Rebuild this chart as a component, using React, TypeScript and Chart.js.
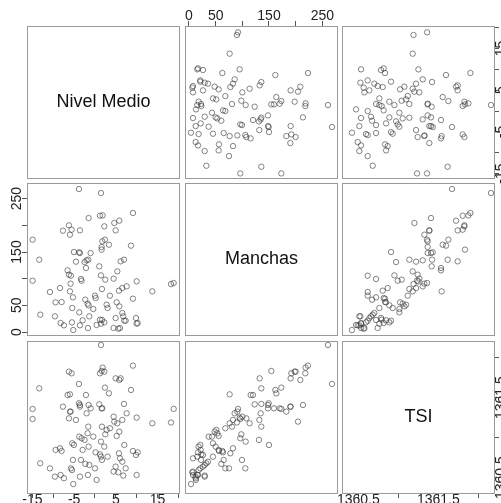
import React, { useEffect, useRef } from "react";
import { Chart, registerables } from "chart.js";

Chart.register(...registerables);

const W = 501;
const H = 503;

// ---- data (one entry per observation) ----
const nivelMedio = [
  -5.2, 5.6, -1.68, 4.48, 6.0, -7.44, -3.6, 0.4, 1.44, 10.0,
  -8.24, 10.24, -5.52, 2.24, 7.04, 7.36, -2.96, 1.68, 1.2, 4.96,
  9.84, -9.6, -1.36, 6.8, -13.12, 6.56, -3.76, -0.4, -5.44, 3.04,
  5.84, -1.52, 2.8, -1.76, -9.44, 5.2, -8.0, -2.32, 9.12, 0.16,
  -5.28, 0.0, 3.6, -10.8, -6.0, 13.76, 5.76, 1.68, -8.4, 6.56,
  7.6, 18.24, -5.84, 18.88, 10.0, -14.96, -3.2, 2.48, -3.36, 4.48,
  -5.76, 1.44, -6.24, 5.36, -6.56, -2.16, 1.04, -2.48, -4.56, 6.16,
  -2.0, -13.36, -1.6, 6.96, -3.6, -1.04, -3.84, -5.04, 1.6, 1.6,
  8.64, 3.36, 1.76, -14.96, 2.4, -6.0, -7.68, -3.6, 4.96, -5.6,
  2.24, -6.24, 4.64, 5.84, -1.52, 1.2, 1.84, 9.12, 1.44, -3.84,
];

const manchas = [
  3.7, 6.2, 7.5, 7.5, 7.5, 12.5, 12.5, 13.1, 15.6, 15.6,
  16.9, 16.9, 18.1, 18.1, 21.2, 21.2, 21.9, 22.5, 23.1, 26.2,
  26.2, 29.4, 29.4, 29.4, 32.5, 35.6, 36.9, 43.1, 45.0, 45.0,
  48.1, 50.0, 51.2, 53.1, 55.6, 55.6, 56.2, 60.6, 62.5, 63.7,
  65.0, 68.1, 68.1, 75.0, 76.2, 76.2, 77.5, 80.6, 82.5, 82.5,
  85.6, 89.9, 90.6, 91.9, 95.0, 96.2, 96.2, 98.1, 99.4, 100.0,
  105.6, 106.2, 107.5, 113.7, 115.6, 120.0, 123.1, 131.2, 131.9, 132.5,
  134.4, 135.6, 135.6, 135.6, 148.1, 148.1, 149.4, 150.0, 154.4, 159.4,
  161.9, 163.7, 170.0, 173.1, 173.1, 182.5, 190.0, 190.6, 190.6, 191.9,
  198.1, 200.0, 204.4, 208.7, 213.7, 218.1, 218.7, 223.1, 260.6, 268.1,
];

const tsi = [
  1360.42, 1360.567, 1360.534, 1360.576, 1360.742, 1360.493, 1360.513, 1360.472, 1360.763, 1360.534,
  1360.534, 1360.817, 1360.596, 1360.888, 1360.909, 1360.617, 1360.847, 1360.722, 1360.792, 1360.638,
  1360.784, 1360.513, 1360.659, 1360.526, 1360.68, 1360.70, 1361.013, 1361.013, 1360.93, 1360.763,
  1361.076, 1360.888, 1361.097, 1361.055, 1360.847, 1361.022, 1360.834, 1360.672, 1360.834, 1360.817,
  1360.722, 1360.617, 1361.118, 1360.617, 1361.542, 1361.18, 1360.805, 1361.138, 1360.867, 1361.222,
  1361.305, 1361.19, 1361.326, 1361.36, 1361.251, 1361.234, 1360.993, 1361.042, 1360.722, 1361.263,
  1360.617, 1360.951, 1361.242, 1361.18, 1361.534, 1361.534, 1361.417, 1360.972, 1361.222, 1361.742,
  1361.305, 1361.617, 1361.138, 1361.422, 1361.409, 1361.367, 1361.43, 1360.909, 1361.834, 1361.367,
  1361.597, 1361.555, 1361.367, 1361.359, 1361.626, 1361.326, 1361.388, 1361.388, 1361.742, 1361.805,
  1361.826, 1361.826, 1361.201, 1361.722, 1361.409, 1361.805, 1361.876, 1361.901, 1362.159, 1361.672,
];

const variableNames = ["Nivel Medio", "Manchas", "TSI"];

const nivelTicks = [-15, -10, -5, 0, 5, 10, 15, 20];
const nivelTickLabels = [-15, -5, 5, 15];
const manchasTicks = [0, 50, 100, 150, 200, 250];
const manchasTickLabels = [0, 50, 150, 250];
const tsiTicks = [1360.5, 1361, 1361.5, 1362];
const tsiTickLabels = [1360.5, 1361.5];

const nivelRange = [-16.3, 20.4];
const manchasRange = [-7.5, 279.4];
const tsiRange = [1360.296, 1362.209];

// ---- layout / style ----
const FAMILY = "'Liberation Sans', Arial, Helvetica, sans-serif";
const TICK_FONT = { family: FAMILY, size: 14, lineHeight: 1 };
const TICK_FONT_STRING = `14px ${FAMILY}`;
const COL_LEFT = [27, 185, 342];
const ROW_TOP = [26, 183, 341];
const PANEL = 153;
const TICK_LEN: Record<string, number> = { top: 5, bottom: 4, left: 5, right: 4 };
const LABEL_GAP: Record<string, number> = { top: 10.3, bottom: 6.5, left: 10.3, right: 6.5 };

type Variable = {
  name: string;
  values: number[];
  range: number[];
  ticks: number[];
  labels: number[];
  fmt: (v: number) => string;
};

const VARS: Variable[] = [
  { name: variableNames[0], values: nivelMedio, range: nivelRange, ticks: nivelTicks, labels: nivelTickLabels, fmt: (v) => String(v) },
  { name: variableNames[1], values: manchas, range: manchasRange, ticks: manchasTicks, labels: manchasTickLabels, fmt: (v) => String(v) },
  { name: variableNames[2], values: tsi, range: tsiRange, ticks: tsiTicks, labels: tsiTickLabels, fmt: (v) => v.toFixed(1) },
];

function widestLabel(v: Variable): number {
  const ctx = document.createElement("canvas").getContext("2d");
  if (!ctx) return 0;
  ctx.font = TICK_FONT_STRING;
  return Math.max(...v.labels.map((l) => ctx.measureText(v.fmt(l)).width));
}

const framePlugin = {
  id: "frame",
  afterDraw(chart: any, _args: any, opts: any) {
    const { ctx, chartArea } = chart;
    const { left, top, width, height } = chartArea;
    ctx.save();
    ctx.strokeStyle = "#9a9a9a";
    ctx.lineWidth = 1;
    ctx.strokeRect(left + 0.5, top + 0.5, width - 1, height - 1);
    if (opts && opts.label) {
      ctx.fillStyle = "#111";
      ctx.font = `18px ${FAMILY}`;
      ctx.textAlign = "center";
      ctx.textBaseline = "middle";
      ctx.fillText(opts.label, left + width / 2, top + height / 2);
    }
    ctx.restore();
  },
};

function axisOptions(v: Variable, axis: "x" | "y", side: string, show: boolean, size: number) {
  const horizontal = axis === "x";
  const tl = TICK_LEN[side];
  const pad = horizontal ? LABEL_GAP[side] - tl - 7 : LABEL_GAP[side] - tl - widestLabel(v) / 2;
  return {
    type: "linear",
    position: side,
    display: show,
    min: v.range[0],
    max: v.range[1],
    afterBuildTicks: (s: any) => {
      s.ticks = v.ticks.map((value) => ({ value }));
    },
    afterFit: (s: any) => {
      if (horizontal) s.height = show ? size : 0;
      else s.width = show ? size : 0;
      s.paddingLeft = 0;
      s.paddingRight = 0;
      s.paddingTop = 0;
      s.paddingBottom = 0;
    },
    ticks: {
      autoSkip: false,
      includeBounds: false,
      font: TICK_FONT,
      color: "#222",
      padding: pad,
      minRotation: horizontal ? 0 : 90,
      maxRotation: horizontal ? 0 : 90,
      crossAlign: horizontal ? "near" : "center",
      callback: (value: number) => (v.labels.includes(value) ? v.fmt(value) : ""),
    },
    grid: {
      display: show,
      drawOnChartArea: false,
      drawTicks: true,
      tickLength: tl,
      color: "#555",
      lineWidth: 1,
    },
    border: { display: false },
  };
}

function buildConfig(i: number, j: number): any {
  const xv = VARS[j];
  const yv = VARS[i];
  const left = COL_LEFT[j];
  const top = ROW_TOP[i];
  const right = left + PANEL;
  const bottom = top + PANEL;
  const dist: Record<string, number> = { left, top, right: W - right, bottom: H - bottom };
  const sides: Record<string, boolean> = {
    top: i === 0 && j === 1,
    bottom: i === 2 && j !== 1,
    left: j === 0 && i === 1,
    right: j === 2 && i !== 1,
  };
  const xSide = sides.top ? "top" : "bottom";
  const ySide = sides.right ? "right" : "left";
  const diag = i === j;
  const data = diag ? [] : xv.values.map((x, k) => ({ x, y: yv.values[k] }));
  return {
    type: "scatter",
    data: {
      datasets: [
        {
          data,
          pointRadius: 2.7,
          pointHoverRadius: 2.7,
          pointBorderWidth: 0.9,
          pointBorderColor: "rgba(50,50,50,0.66)",
          pointBackgroundColor: "rgba(0,0,0,0)",
        },
      ],
    },
    options: {
      animation: false,
      responsive: false,
      devicePixelRatio: 1,
      events: [],
      layout: {
        padding: {
          left: sides.left ? 0 : dist.left,
          right: sides.right ? 0 : dist.right,
          top: sides.top ? 0 : dist.top,
          bottom: sides.bottom ? 0 : dist.bottom,
        },
      },
      plugins: {
        legend: { display: false },
        tooltip: { enabled: false },
        frame: { label: diag ? yv.name : "" },
      },
      scales: {
        x: axisOptions(xv, "x", xSide, sides[xSide], dist[xSide]),
        y: axisOptions(yv, "y", ySide, sides[ySide], dist[ySide]),
      },
    },
    plugins: [framePlugin],
  };
}

const CELLS = [0, 1, 2, 3, 4, 5, 6, 7, 8];

export default function App() {
  const refs = useRef<(HTMLCanvasElement | null)[]>([]);

  useEffect(() => {
    const charts: Chart[] = [];
    CELLS.forEach((k) => {
      const canvas = refs.current[k];
      if (canvas) charts.push(new Chart(canvas, buildConfig(Math.floor(k / 3), k % 3)));
    });
    return () => charts.forEach((c) => c.destroy());
  }, []);

  return (
    <div style={{ position: "absolute", left: 0, top: 0, width: W, height: H, background: "#fff", overflow: "hidden" }}>
      {CELLS.map((k) => (
        <canvas
          key={k}
          ref={(el) => {
            refs.current[k] = el;
          }}
          width={W}
          height={H}
          style={{ position: "absolute", left: 0, top: 0 }}
        />
      ))}
    </div>
  );
}
